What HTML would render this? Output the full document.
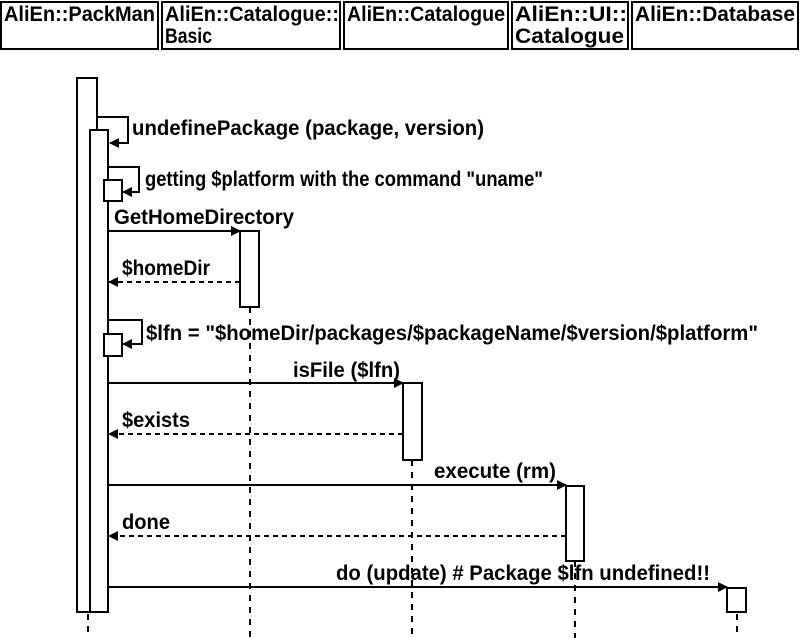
<!DOCTYPE html>
<html><head><meta charset="utf-8"><style>body{margin:0;background:#fff}svg{display:block}text{font-family:"Liberation Sans",Arial,sans-serif;font-weight:bold;font-size:21px;fill:#000}</style></head><body>
<svg width="800" height="638" viewBox="0 0 800 638" xmlns="http://www.w3.org/2000/svg">
<defs><marker id="a" markerWidth="10" markerHeight="10" refX="9" refY="5" orient="auto" markerUnits="userSpaceOnUse"><path d="M0,0 L10,5 L0,10 Z" fill="#000"/></marker></defs>
<g fill="#fff" stroke="#000" stroke-width="2">
<rect x="1" y="2" width="157" height="47"/><rect x="162" y="2" width="178" height="47"/><rect x="344" y="2" width="164" height="47"/><rect x="512" y="2" width="116" height="47"/><rect x="632" y="2" width="166" height="47"/>
</g>
<text x="4" y="21" textLength="151" lengthAdjust="spacingAndGlyphs">AliEn::PackMan</text>
<text x="165" y="21" textLength="174" lengthAdjust="spacingAndGlyphs">AliEn::Catalogue::</text>
<text x="165" y="43" textLength="47" lengthAdjust="spacingAndGlyphs">Basic</text>
<text x="347" y="21" textLength="158" lengthAdjust="spacingAndGlyphs">AliEn::Catalogue</text>
<text x="515" y="21" textLength="112" lengthAdjust="spacingAndGlyphs">AliEn::UI::</text>
<text x="515" y="43" textLength="109" lengthAdjust="spacingAndGlyphs">Catalogue</text>
<text x="635" y="21" textLength="160" lengthAdjust="spacingAndGlyphs">AliEn::Database</text>
<g stroke="#000" stroke-width="2" stroke-dasharray="6,6">
<line x1="88" y1="614" x2="88" y2="638"/><line x1="250" y1="307" x2="250" y2="638"/><line x1="412" y1="460" x2="412" y2="638"/><line x1="575" y1="561" x2="575" y2="638"/><line x1="737" y1="614" x2="737" y2="638"/>
</g>
<g fill="#fff" stroke="#000" stroke-width="2">
<rect x="77" y="78" width="20" height="534"/><rect x="90" y="130" width="18" height="482"/>
<rect x="104" y="180" width="18" height="21"/><rect x="104" y="334" width="18" height="22"/>
<rect x="240" y="231" width="19" height="76"/><rect x="403" y="383" width="19" height="77"/>
<rect x="566" y="486" width="18" height="75"/><rect x="727" y="588" width="19" height="24"/>
</g>
<g fill="none" stroke="#000" stroke-width="2">
<polyline points="97,117 128,117 128,143 110,143" marker-end="url(#a)"/>
<polyline points="108,167 139,167 139,192 123,192" marker-end="url(#a)"/>
<polyline points="108,320 142,320 142,344 123,344" marker-end="url(#a)"/>
<line x1="108" y1="231" x2="240" y2="231" marker-end="url(#a)"/>
<line x1="240" y1="282" x2="109" y2="282" stroke-dasharray="5,4" marker-end="url(#a)"/>
<line x1="108" y1="383" x2="403" y2="383" marker-end="url(#a)"/>
<line x1="403" y1="434" x2="109" y2="434" stroke-dasharray="5,4" marker-end="url(#a)"/>
<line x1="108" y1="485" x2="566" y2="485" marker-end="url(#a)"/>
<line x1="566" y1="536" x2="109" y2="536" stroke-dasharray="5,4" marker-end="url(#a)"/>
<line x1="108" y1="587" x2="727" y2="587" marker-end="url(#a)"/>
</g>
<text x="132" y="135" textLength="352" lengthAdjust="spacingAndGlyphs">undefinePackage (package, version)</text>
<text x="145" y="186" textLength="398" lengthAdjust="spacingAndGlyphs">getting $platform with the command "uname"</text>
<text x="114" y="224" textLength="180" lengthAdjust="spacingAndGlyphs">GetHomeDirectory</text>
<text x="122" y="275" textLength="88" lengthAdjust="spacingAndGlyphs">$homeDir</text>
<text x="146" y="340" textLength="612" lengthAdjust="spacingAndGlyphs">$lfn = "$homeDir/packages/$packageName/$version/$platform"</text>
<text x="293" y="377" textLength="107" lengthAdjust="spacingAndGlyphs">isFile ($lfn)</text>
<text x="122" y="427" textLength="68" lengthAdjust="spacingAndGlyphs">$exists</text>
<text x="434" y="478" textLength="122" lengthAdjust="spacingAndGlyphs">execute (rm)</text>
<text x="122" y="529" textLength="48" lengthAdjust="spacingAndGlyphs">done</text>
<text x="336" y="580" textLength="374" lengthAdjust="spacingAndGlyphs">do (update) # Package $lfn undefined!!</text>
</svg>
</body></html>
